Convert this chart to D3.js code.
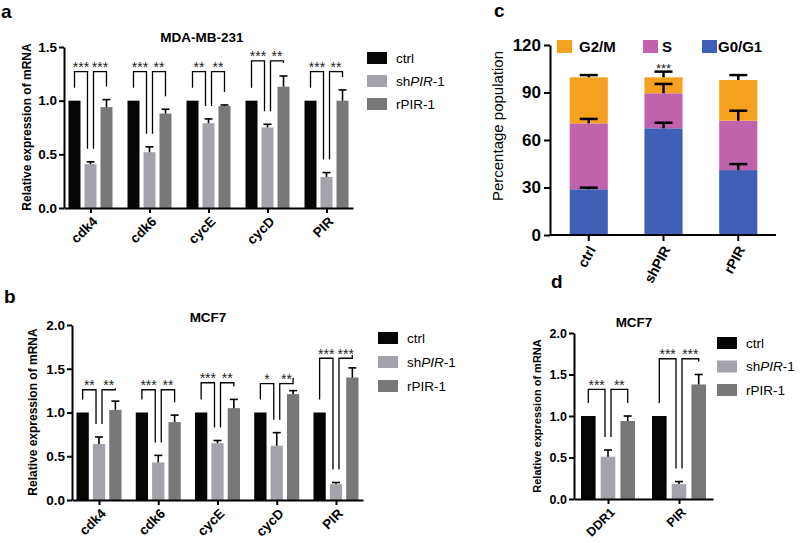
<!DOCTYPE html>
<html><head><meta charset="utf-8">
<script src="https://cdn.jsdelivr.net/npm/d3@7"></script>
<style>
body{margin:0;background:#fff}
svg text{font-family:"Liberation Sans",Arial,Helvetica,sans-serif}
</style>
</head><body>
<svg id="fig" width="800" height="543"></svg>
<script>
// ---------------- DATA ----------------
const seriesNames = ["ctrl", "shPIR-1", "rPIR-1"];
const seriesColors = ["#050505", "#a3a3ab", "#787878"];

// Panel a: MDA-MB-231
const aCategories = ["cdk4", "cdk6", "cycE", "cycD", "PIR"];
const aCtrl = [1.0, 1.0, 1.0, 1.0, 1.0];
const aSh = [0.41, 0.52, 0.79, 0.75, 0.29];
const aShErr = [0.02, 0.05, 0.04, 0.03, 0.04];
const aR = [0.94, 0.88, 0.95, 1.13, 1.00];
const aRErr = [0.07, 0.04, 0.01, 0.10, 0.10];
const aBracket = [1.27, 1.27, 1.27, 1.37, 1.27];
const aStars1 = ["***", "***", "**", "***", "***"];
const aStars2 = ["***", "**", "**", "**", "**"];
const aTicks = [0, 0.5, 1.0, 1.5];

// Panel b: MCF7
const bCategories = ["cdk4", "cdk6", "cycE", "cycD", "PIR"];
const bCtrl = [1.0, 1.0, 1.0, 1.0, 1.0];
const bSh = [0.64, 0.43, 0.65, 0.62, 0.18];
const bShErr = [0.08, 0.08, 0.03, 0.15, 0.02];
const bR = [1.03, 0.89, 1.05, 1.21, 1.40];
const bRErr = [0.10, 0.08, 0.10, 0.04, 0.11];
const bBracket = [1.26, 1.26, 1.34, 1.33, 1.62];
const bStars1 = ["**", "***", "***", "*", "***"];
const bStars2 = ["**", "**", "**", "**", "***"];
const bTicks = [0, 0.5, 1.0, 1.5, 2.0];

// Panel c: cell cycle
const cCategories = ["ctrl", "shPIR", "rPIR"];
const cPhases = ["G0/G1", "S", "G2/M"];
const cG0G1 = [28.9, 67.4, 41.0];
const cG0G1Err = [1.0, 3.5, 3.8];
const cS = [41.6, 22.1, 31.2];
const cSErr = [2.8, 5.9, 6.3];
const cG2M = [29.1, 10.1, 25.7];
const cG2MErr = [1.4, 3.6, 3.1];
const cStars = ["", "***", ""];
const cTicks = [0, 30, 60, 90, 120];
const cLegendOrder = ["G2/M", "S", "G0/G1"];
const cColors = ["#3f60b6", "#c062ac", "#f5a11f"];

// Panel d: MCF7
const dCategories = ["DDR1", "PIR"];
const dCtrl = [1.0, 1.0];
const dSh = [0.51, 0.18];
const dShErr = [0.08, 0.03];
const dR = [0.94, 1.38];
const dRErr = [0.06, 0.12];
const dBracket = [1.32, 1.69];
const dStars1 = ["***", "***"];
const dStars2 = ["**", "***"];
const dTicks = [0, 0.5, 1.0, 1.5, 2.0];

// ---------------- DRAW ----------------
const svg = d3.select("#fig");

function styleAxis(sel, fs) {
  sel.selectAll("path,line").attr("stroke", "#000").attr("stroke-width", 2);
  sel.selectAll("text").attr("fill", "#000").style("font-size", fs + "px").style("font-weight", "bold");
}

function grouped(cfg) {
  const g = svg.append("g");
  const y = d3.scaleLinear().domain([0, cfg.yMax]).range([cfg.yBottom, cfg.yTop]);
  const x = d3.scalePoint().domain(cfg.cats).range([cfg.x0, cfg.x1]).padding(cfg.xPad);
  const sub = d3.scaleBand().domain(seriesNames).range([-cfg.half, cfg.half]).paddingInner(cfg.subPad);
  const bw = sub.bandwidth();
  const rows = cfg.cats.map((c, i) => ({
    cat: c, i,
    vals: cfg.series.map((s, k) => ({ name: seriesNames[k], k, v: s.v[i], e: s.e ? s.e[i] : 0 }))
  }));
  const grp = g.selectAll("g.grp").data(rows).join("g").attr("class", "grp")
    .attr("transform", d => `translate(${x(d.cat)},0)`);
  grp.selectAll("rect").data(d => d.vals).join("rect")
    .attr("x", d => sub(d.name)).attr("width", bw)
    .attr("y", d => y(d.v)).attr("height", d => y(0) - y(d.v))
    .attr("fill", d => seriesColors[d.k]);
  // error bars
  const eb = grp.selectAll("g.eb").data(d => d.vals.filter(v => v.e > 0)).join("g").attr("class", "eb");
  eb.append("line").attr("x1", d => sub(d.name) + bw / 2).attr("x2", d => sub(d.name) + bw / 2)
    .attr("y1", d => y(d.v)).attr("y2", d => y(d.v + d.e)).attr("stroke", "#000").attr("stroke-width", 1.6);
  eb.append("line").attr("x1", d => sub(d.name) + bw / 2 - 4).attr("x2", d => sub(d.name) + bw / 2 + 4)
    .attr("y1", d => y(d.v + d.e)).attr("y2", d => y(d.v + d.e)).attr("stroke", "#000").attr("stroke-width", 1.6);
  // brackets
  const gap = 13;
  rows.forEach(r => {
    const cx = k => x(r.cat) + sub(seriesNames[k]) + bw / 2;
    const legEnd = k => y(r.vals[k].v + r.vals[k].e) - gap;
    const yb = y(cfg.bracket[r.i]);
    const A = cx(0), B = cx(1) - 3, C = cx(1) + 3, D = cx(2);
    g.append("path").attr("d", `M${A},${legEnd(0)}V${yb}H${B}V${legEnd(1)}`)
      .attr("fill", "none").attr("stroke", "#000").attr("stroke-width", 1.3);
    g.append("path").attr("d", `M${C},${legEnd(1)}V${yb}H${D}V${legEnd(2)}`)
      .attr("fill", "none").attr("stroke", "#000").attr("stroke-width", 1.3);
    g.append("text").attr("x", (A + B) / 2).attr("y", yb + 0.5).attr("text-anchor", "middle")
      .attr("fill", "#222").style("font-size", cfg.starFs + "px").text(cfg.stars1[r.i]);
    g.append("text").attr("x", (C + D) / 2).attr("y", yb + 0.5).attr("text-anchor", "middle")
      .attr("fill", "#222").style("font-size", cfg.starFs + "px").text(cfg.stars2[r.i]);
  });
  // axes
  const ya = g.append("g").attr("transform", `translate(${cfg.x0},0)`)
    .call(d3.axisLeft(y).tickValues(cfg.ticks).tickFormat(d3.format(".1f")).tickSize(5).tickSizeOuter(0).tickPadding(2));
  styleAxis(ya, cfg.tickFs);
  const xa = g.append("g").attr("transform", `translate(0,${cfg.yBottom})`)
    .call(d3.axisBottom(x).tickSize(5).tickSizeOuter(0));
  styleAxis(xa, cfg.tickFs);
  xa.selectAll(".tick text").attr("x", 0).attr("y", 0).attr("dy", "0.35em")
    .attr("transform", "translate(4,11) rotate(-45)").style("text-anchor", "end");
  // title
  g.append("text").attr("x", cfg.titleX).attr("y", cfg.titleY).attr("text-anchor", "middle")
    .style("font-size", "13.5px").style("font-weight", "bold").text(cfg.title);
  // y label
  g.append("text").attr("transform", `translate(${cfg.ylabX},${cfg.ylabY}) rotate(-90)`)
    .attr("text-anchor", "middle").attr("dy", "0.35em")
    .style("font-size", cfg.ylabFs + "px").style("font-weight", "bold").text("Relative expression of mRNA");
  // legend
  const lg = g.append("g").attr("transform", `translate(${cfg.legX},${cfg.legY})`);
  seriesNames.forEach((n, k) => {
    const it = lg.append("g").attr("transform", `translate(0,${k * cfg.legDy})`);
    it.append("rect").attr("x", 0).attr("y", -6).attr("width", 20).attr("height", 12).attr("fill", seriesColors[k]);
    const t = it.append("text").attr("x", 29).attr("y", 0).attr("dy", "0.35em").style("font-size", "13.5px");
    if (n === "shPIR-1") {
      t.append("tspan").text("sh");
      t.append("tspan").style("font-style", "italic").text("PIR");
      t.append("tspan").text("-1");
    } else t.text(n);
  });
  // panel letter
  svg.append("text").attr("x", cfg.letX).attr("y", cfg.letY)
    .style("font-size", "19px").style("font-weight", "bold").text(cfg.letter);
}

grouped({
  cats: aCategories, series: [{ v: aCtrl }, { v: aSh, e: aShErr }, { v: aR, e: aRErr }],
  bracket: aBracket, stars1: aStars1, stars2: aStars2, ticks: aTicks, yMax: 1.5,
  x0: 64, x1: 353, xPad: 0.449, yBottom: 208, yTop: 47, half: 22, subPad: 0.25, tickFs: 13.5, starFs: 14,
  title: "MDA-MB-231", titleX: 202, titleY: 42, ylabX: 27, ylabY: 127, ylabFs: 12,
  legX: 367, legY: 58, legDy: 23, letter: "a", letX: 1, letY: 18
});

grouped({
  cats: bCategories, series: [{ v: bCtrl }, { v: bSh, e: bShErr }, { v: bR, e: bRErr }],
  bracket: bBracket, stars1: bStars1, stars2: bStars2, ticks: bTicks, yMax: 2.0,
  x0: 72, x1: 363, xPad: 0.456, yBottom: 500, yTop: 325, half: 22.5, subPad: 0.25, tickFs: 13.5, starFs: 14,
  title: "MCF7", titleX: 208, titleY: 322, ylabX: 33, ylabY: 412, ylabFs: 12,
  legX: 378, legY: 338, legDy: 24, letter: "b", letX: 4, letY: 303
});

grouped({
  cats: dCategories, series: [{ v: dCtrl }, { v: dSh, e: dShErr }, { v: dR, e: dRErr }],
  bracket: dBracket, stars1: dStars1, stars2: dStars2, ticks: dTicks, yMax: 2.0,
  x0: 574, x1: 713, xPad: 0.479, yBottom: 499, yTop: 333, half: 27, subPad: 0.26, tickFs: 12.5, starFs: 14,
  title: "MCF7", titleX: 634, titleY: 327, ylabX: 537, ylabY: 416, ylabFs: 11,
  legX: 717, legY: 343, legDy: 23.5, letter: "d", letX: 551, letY: 288
});

// ----- Panel c: stacked bars -----
(function () {
  const g = svg.append("g");
  const y = d3.scaleLinear().domain([0, 120]).range([235, 45]);
  const x = d3.scaleBand().domain(cCategories).range([551, 776]).paddingInner(0.49).paddingOuter(0.25);
  const rows = cCategories.map((c, i) => ({ cat: c, i, "G0/G1": cG0G1[i], "S": cS[i], "G2/M": cG2M[i] }));
  const errs = { "G0/G1": cG0G1Err, "S": cSErr, "G2/M": cG2MErr };
  const stack = d3.stack().keys(cPhases)(rows);
  const color = d3.scaleOrdinal().domain(cPhases).range(cColors);
  g.selectAll("g.layer").data(stack).join("g").attr("class", "layer").attr("fill", d => color(d.key))
    .selectAll("rect").data(d => d).join("rect")
    .attr("x", d => x(d.data.cat)).attr("width", x.bandwidth())
    .attr("y", d => y(d[1])).attr("height", d => y(d[0]) - y(d[1]));
  // error bars
  stack.forEach(layer => {
    layer.forEach((d, i) => {
      const cx = x(d.data.cat) + x.bandwidth() / 2;
      const e = errs[layer.key][i];
      g.append("line").attr("x1", cx).attr("x2", cx).attr("y1", y(d[1])).attr("y2", y(d[1] + e))
        .attr("stroke", "#000").attr("stroke-width", 2.5);
      g.append("line").attr("x1", cx - 9).attr("x2", cx + 9).attr("y1", y(d[1] + e)).attr("y2", y(d[1] + e))
        .attr("stroke", "#000").attr("stroke-width", 2.5);
    });
  });
  // stars
  g.selectAll("text.star").data(cCategories).join("text").attr("class", "star")
    .attr("x", d => x(d) + x.bandwidth() / 2).attr("y", 73).attr("text-anchor", "middle")
    .attr("fill", "#222").style("font-size", "13px").text((d, i) => cStars[i]);
  // axes
  const ya = g.append("g").attr("transform", "translate(550,0)")
    .call(d3.axisLeft(y).tickValues(cTicks).tickSize(6).tickSizeOuter(0).tickPadding(3));
  styleAxis(ya, 17);
  const xa = g.append("g").attr("transform", "translate(0,235)")
    .call(d3.axisBottom(x).tickSize(6).tickSizeOuter(0));
  xa.select(".domain").attr("d", "M550,0H776");
  styleAxis(xa, 14);
  xa.selectAll(".tick text").attr("x", 0).attr("y", 0).attr("dy", "0.35em")
    .attr("transform", "translate(3,12) rotate(-62)").style("text-anchor", "end");
  // y label
  g.append("text").attr("transform", "translate(498,126) rotate(-90)").attr("text-anchor", "middle")
    .attr("dy", "0.35em").style("font-size", "15px").text("Percentage population");
  // legend
  const legX = [557, 643, 702], legTx = [22, 19, 16];
  cLegendOrder.forEach((k, j) => {
    g.append("rect").attr("x", legX[j]).attr("y", 40).attr("width", 15).attr("height", 13).attr("fill", color(k));
    g.append("text").attr("x", legX[j] + legTx[j]).attr("y", 46.5).attr("dy", "0.35em")
      .style("font-size", "15px").style("font-weight", "bold").text(k);
  });
  svg.append("text").attr("x", 494).attr("y", 17).style("font-size", "19px").style("font-weight", "bold").text("c");
})();
</script>
</body></html>
